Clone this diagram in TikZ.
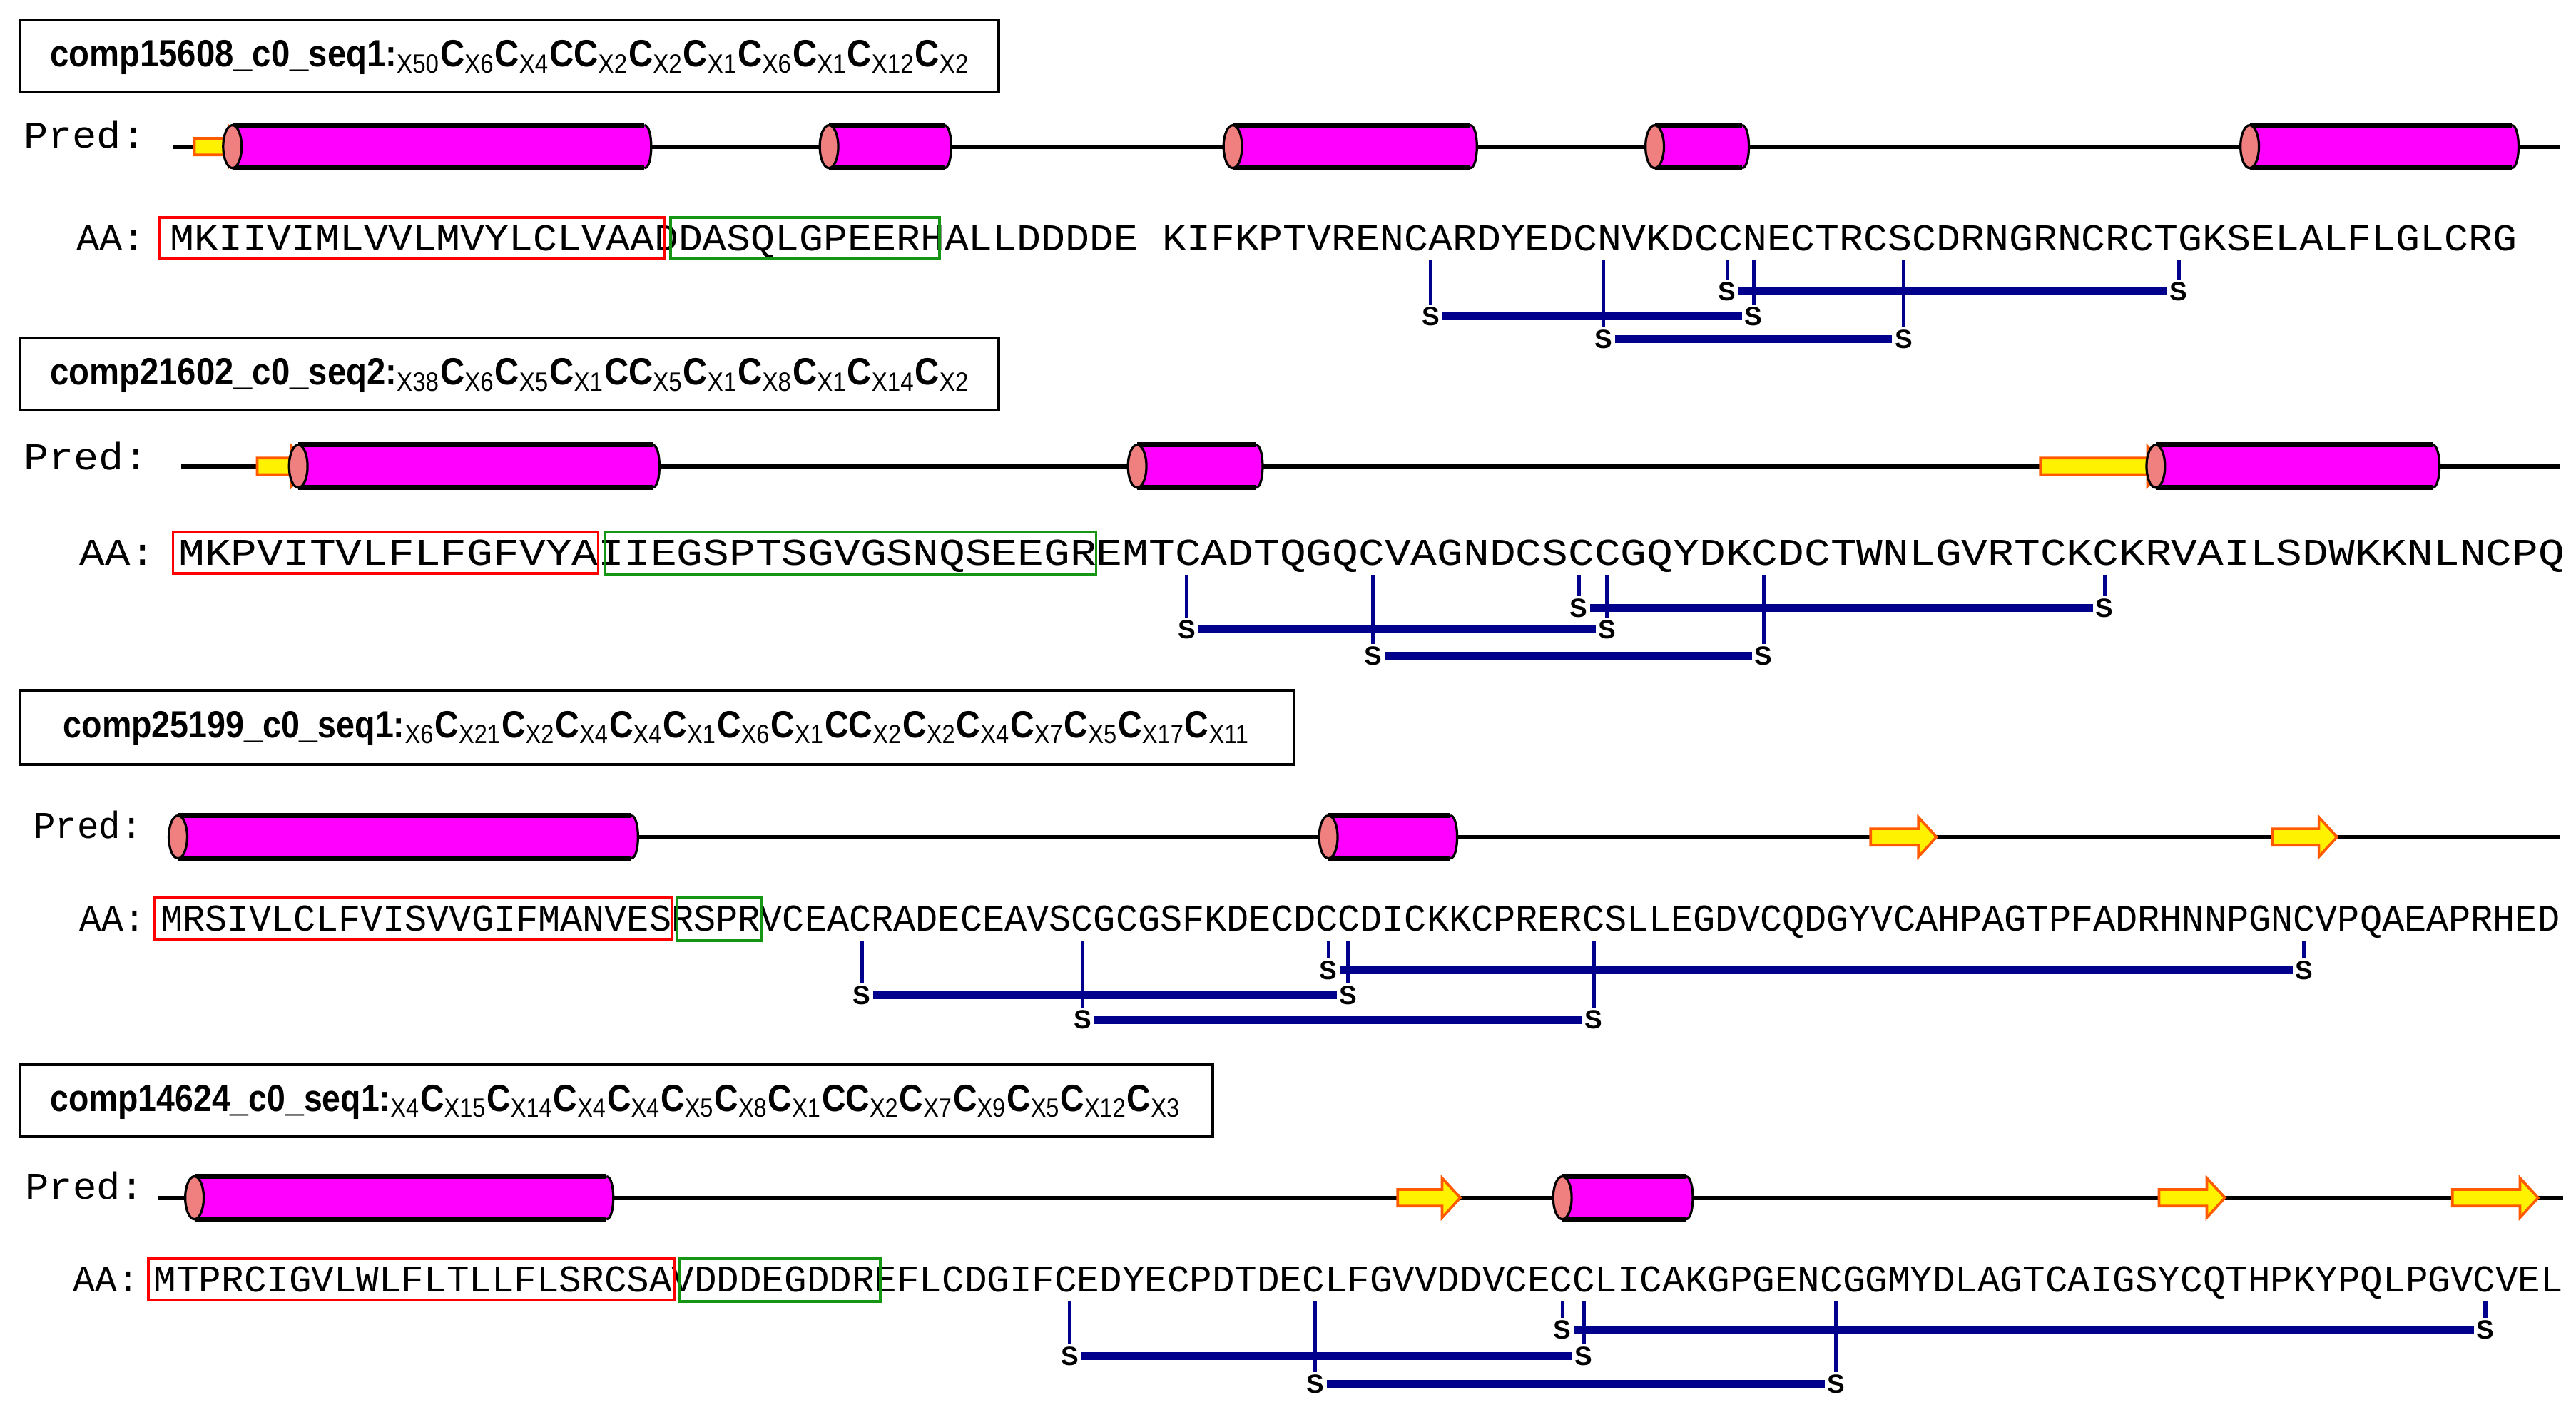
\documentclass[tikz,border=0pt]{standalone}
\usepackage{fontspec}
\usepackage{graphicx}
\newfontfamily\monof{Liberation Mono}
\newfontfamily\sansf{Liberation Sans}
\definecolor{navy}{RGB}{0,0,140}
\definecolor{helixmag}{RGB}{255,0,255}
\definecolor{salmonc}{RGB}{240,128,128}
\definecolor{boxgreen}{RGB}{20,150,20}
\definecolor{arrowedge}{RGB}{255,90,0}
\newcommand\sbx[1]{\textsubscript{\mdseries #1}}
\newcommand\helixcyl[3]{% x1 x2 y
  \fill[helixmag] (#1,#3-13) -- (#2-4,#3-13) .. controls (#2+1.5,#3-13) and (#2+1.5,#3+13) .. (#2-4,#3+13) -- (#1,#3+13) -- cycle;
  \draw[line width=0.7pt] (#2-4,#3-13) .. controls (#2+1.5,#3-13) and (#2+1.5,#3+13) .. (#2-4,#3+13);
  \draw[line width=1.5pt] (#1,#3-13) -- (#2-4,#3-13) (#1,#3+13) -- (#2-4,#3+13);
  \draw[fill=salmonc,line width=0.7pt] (#1,#3) ellipse [x radius=2.8pt, y radius=6.5pt];}
\newcommand\sheetarrow[3]{% x1 x2 y
  \draw[fill=yellow,draw=arrowedge,line width=0.8pt,line join=miter] (#1,#3-5) -- (#2-11,#3-5) -- (#2-11,#3-12) -- (#2,#3) -- (#2-11,#3+12) -- (#2-11,#3+5) -- (#1,#3+5) -- cycle;}
\newcommand\ssbond[5]{% name, top y, xa, xb, level
  \node[sl] (#1a) at (#3,#5) {S};
  \node[sl] (#1b) at (#4,#5) {S};
  \coordinate (#1ta) at (#3,#2);
  \coordinate (#1tb) at (#4,#2);
  \draw[vl] (#1ta) -- (#1a.north);
  \draw[vl] (#1tb) -- (#1b.north);
  \draw[bar] (#1a.east) -- (#1b.west);}
\tikzset{
  sl/.style={inner sep=0.6pt, font=\sansf\bfseries\fontsize{8}{8}\selectfont},
  vl/.style={navy, line width=1.1pt},
  bar/.style={navy, line width=2.4pt},
  hbox/.style={draw=black, line width=0.9pt},
  sigbox/.style={draw=red, line width=0.8pt},
  probox/.style={draw=boxgreen, line width=0.8pt},
  txt/.style={inner sep=0, anchor=base west},
  backbone/.style={line width=1.3pt, black},
}
\newcommand\seqtxt[2]{\resizebox{#1pt}{\height}{\monof\fontsize{11.5}{13}\selectfont #2}}
\newcommand\hdtxt[2]{\resizebox{#1pt}{\height}{\sansf\bfseries\fontsize{11.5}{13}\selectfont #2}}
\begin{document}
\begin{tikzpicture}[x=0.5pt,y=-0.5pt]
\useasboundingbox (0,0) rectangle (1563,857);
\fill[white] (0,0) rectangle (1563,857);

% ---------- Row 1 ----------
\draw[hbox] (12,12) rectangle (606,56);
\node[txt,anchor=west] (h1) at (30,35) {\hdtxt{279}{comp15608\_c0\_seq1:\sbx{X50}C\sbx{X6}C\sbx{X4}CC\sbx{X2}C\sbx{X2}C\sbx{X1}C\sbx{X6}C\sbx{X1}C\sbx{X12}C\sbx{X2}}};
\node[txt] (p1) at (14,90) {\seqtxt{37}{Pred:}};
\draw[backbone] (105,89) -- (1553,89);
\sheetarrow{118}{150}{89}
\helixcyl{141}{395}{89}
\helixcyl{503}{577}{89}
\helixcyl{748}{896}{89}
\helixcyl{1004}{1061}{89}
\helixcyl{1365}{1528}{89}
\node[txt] (a1) at (46,152) {\seqtxt{21}{AA:}};
\node[txt] (s1) at (103,152) {\seqtxt{712}{MKIIVIMLVVLMVYLCLVAADDASQLGPEERHALLDDDDE KIFKPTVRENCARDYEDCNVKDCCNECTRCSCDRNGRNCRCTGKSELALFLGLCRG}};
\draw[sigbox] (97,132) rectangle (403,157);
\draw[probox] (407,132) rectangle (570,157);
\ssbond{r1x}{158}{868}{1064}{192}
\ssbond{r1y}{158}{973}{1155}{206}
\ssbond{r1z}{158}{1048}{1322}{177}

% ---------- Row 2 ----------
\draw[hbox] (12,205) rectangle (606,249);
\node[txt,anchor=west] (h2) at (30,228) {\hdtxt{279}{comp21602\_c0\_seq2:\sbx{X38}C\sbx{X6}C\sbx{X5}C\sbx{X1}CC\sbx{X5}C\sbx{X1}C\sbx{X8}C\sbx{X1}C\sbx{X14}C\sbx{X2}}};
\node[txt] (p2) at (14,285) {\seqtxt{38}{Pred:}};
\draw[backbone] (110,283) -- (1553,283);
\sheetarrow{156}{188}{283}
\helixcyl{181}{400}{283}
\helixcyl{690}{766}{283}
\sheetarrow{1238}{1314}{283}
\helixcyl{1308}{1480}{283}
\node[txt] (a2) at (48,343) {\seqtxt{23}{AA:}};
\node[txt] (s2) at (108,343) {\seqtxt{724}{MKPVITVLFLFGFVYAIIEGSPTSGVGSNQSEEGREMTCADTQGQCVAGNDCSCCGQYDKCDCTWNLGVRTCKCKRVAILSDWKKNLNCPQ}};
\draw[sigbox] (105,323) rectangle (363,348);
\draw[probox] (367,323) rectangle (665,349);
\ssbond{r2x}{349}{720}{975}{382}
\ssbond{r2y}{349}{833}{1070}{398}
\ssbond{r2z}{349}{958}{1277}{369}

% ---------- Row 3 ----------
\draw[hbox] (12,419) rectangle (785,464);
\node[txt,anchor=west] (h3) at (38,442) {\hdtxt{360}{comp25199\_c0\_seq1:\sbx{X6}C\sbx{X21}C\sbx{X2}C\sbx{X4}C\sbx{X4}C\sbx{X1}C\sbx{X6}C\sbx{X1}CC\sbx{X2}C\sbx{X2}C\sbx{X4}C\sbx{X7}C\sbx{X5}C\sbx{X17}C\sbx{X11}}};
\node[txt] (p3) at (20,509) {\seqtxt{33}{Pred:}};
\draw[backbone] (104,508) -- (1553,508);
\helixcyl{108}{387}{508}
\helixcyl{806}{884}{508}
\sheetarrow{1135}{1175}{508}
\sheetarrow{1379}{1418}{508}
\node[txt] (a3) at (48,565) {\seqtxt{20}{AA:}};
\node[txt] (s3) at (97,565) {\seqtxt{728}{MRSIVLCLFVISVVGIFMANVESRSPRVCEACRADECEAVSCGCGSFKDECDCCDICKKCPRERCSLLEGDVCQDGYVCAHPAGTPFADRHNNPGNCVPQAEAPRHED}};
\draw[sigbox] (94,545) rectangle (408,570);
\draw[probox] (411,545) rectangle (462,571);
\ssbond{r3x}{571}{523}{818}{604}
\ssbond{r3y}{571}{657}{967}{619}
\ssbond{r3z}{571}{806}{1398}{589}

% ---------- Row 4 ----------
\draw[hbox] (12,646) rectangle (736,690);
\node[txt,anchor=west] (h4) at (30,669) {\hdtxt{343}{comp14624\_c0\_seq1:\sbx{X4}C\sbx{X15}C\sbx{X14}C\sbx{X4}C\sbx{X4}C\sbx{X5}C\sbx{X8}C\sbx{X1}CC\sbx{X2}C\sbx{X7}C\sbx{X9}C\sbx{X5}C\sbx{X12}C\sbx{X3}}};
\node[txt] (p4) at (15,728) {\seqtxt{36}{Pred:}};
\draw[backbone] (96,727) -- (1555,727);
\helixcyl{118}{372}{727}
\sheetarrow{848}{886}{727}
\helixcyl{948}{1027}{727}
\sheetarrow{1310}{1350}{727}
\sheetarrow{1488}{1540}{727}
\node[txt] (a4) at (44,784) {\seqtxt{20}{AA:}};
\node[txt] (s4) at (93,784) {\seqtxt{731}{MTPRCIGVLWLFLTLLFLSRCSAVDDDEGDDREFLCDGIFCEDYECPDTDECLFGVVDDVCECCLICAKGPGENCGGMYDLAGTCAIGSYCQTHPKYPQLPGVCVEL}};
\draw[sigbox] (90,764) rectangle (409,789);
\draw[probox] (412,764) rectangle (534,790);
\ssbond{r4x}{790}{649}{961}{823}
\ssbond{r4y}{790}{798}{1114}{840}
\ssbond{r4z}{790}{948}{1508}{807}
\end{tikzpicture}
\end{document}
